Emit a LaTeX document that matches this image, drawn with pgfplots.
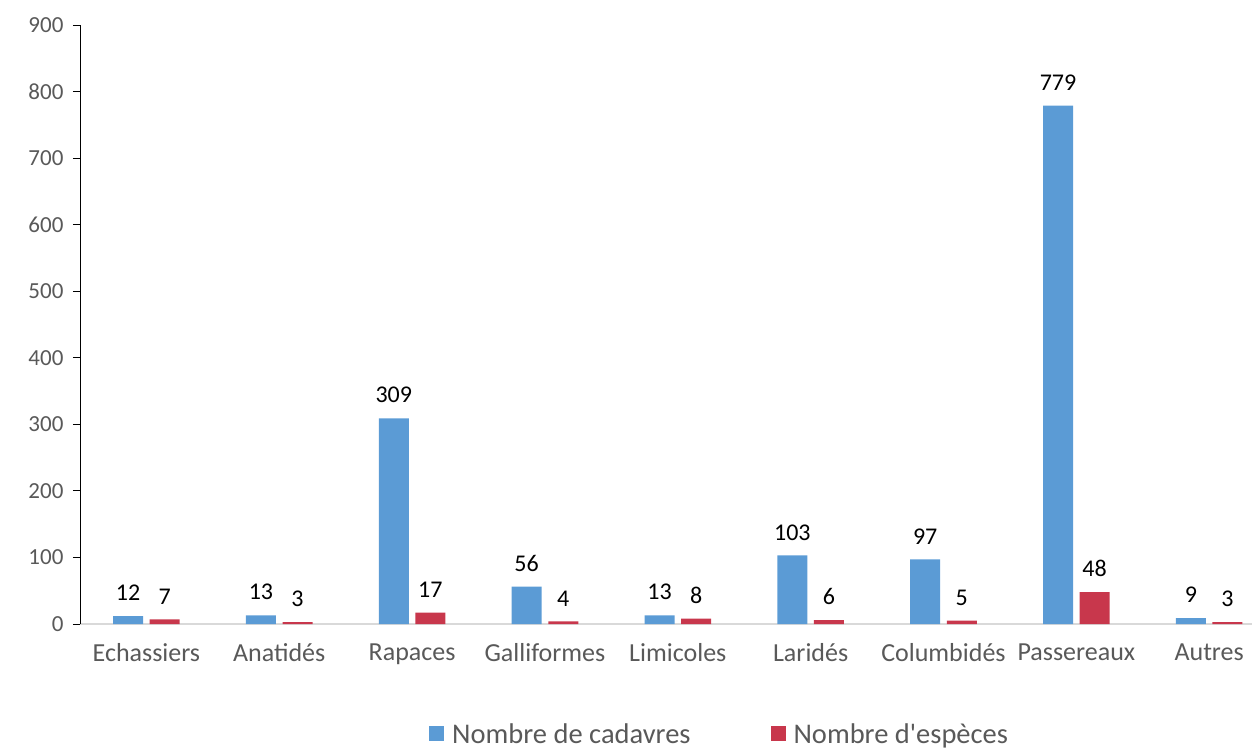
\documentclass[border=0pt]{standalone}
\usepackage{fontspec}
\setmainfont{Carlito}[Ligatures=TeXOff]
\usepackage{pgfplots}
\pgfplotsset{compat=1.18}
\definecolor{cblue}{HTML}{5B9BD5}
\definecolor{cred}{HTML}{C8374C}
\definecolor{tgray}{HTML}{595959}
\definecolor{lgray}{HTML}{D9D9D9}
\begin{document}
\begin{tikzpicture}
\path[use as bounding box] (-80pt,-125pt) rectangle (1172pt,624pt);
\begin{axis}[
  scale only axis, width=1195.7pt, height=599pt,
  at={(0pt,0pt)}, anchor=south west,
  xmin=-0.5, xmax=8.5, ymin=0, ymax=900,
  axis x line=bottom, axis y line=left,
  x axis line style={-, draw=lgray, line width=1.2pt},
  y axis line style={-, draw=black, line width=0.9pt},
  ytick={0,100,...,900},
  ytick style={draw=black, line width=0.9pt},
  tick align=outside, major tick length=7pt,
  xtick=data,
  xtick style={draw=none},
  xticklabels={Echassiers,Anatidés,Rapaces,Galliformes,Limicoles,Laridés,Columbidés,Passereaux,Autres},
  xticklabel style={font=\fontsize{26}{30}\selectfont, text=tgray, yshift=-9pt},
  yticklabel style={font=\fontsize{23}{27}\selectfont, text=tgray, xshift=-6pt},
  /pgf/number format/assume math mode=true,
  scaled y ticks=false,
  ybar, bar width=30pt,
  nodes near coords,
  nodes near coords style={font=\fontsize{24}{28}\selectfont, text=black, anchor=south, inner sep=0pt, yshift=15pt},
  legend style={at={(0.535,0)}, anchor=center, yshift=-110pt, draw=none, fill=none,
    legend columns=2, font=\fontsize{28.5}{32}\selectfont, text=tgray,
    /tikz/every even column/.append style={column sep=78pt}},
  legend image code/.code={\fill[#1] (0pt,-7pt) rectangle (15pt,8pt); \path (21pt,0pt);},
]
\addplot[fill=cblue, draw=none, bar shift=-18.3pt] coordinates {
(0,12) (1,13) (2,309) (3,56) (4,13) (5,103) (6,97) (7,779) (8,9)};
\addplot[fill=cred, draw=none, bar shift=18.3pt] coordinates {
(0,7) (1,3) (2,17) (3,4) (4,8) (5,6) (6,5) (7,48) (8,3)};
\legend{Nombre de cadavres, Nombre d'espèces}
\end{axis}
\end{tikzpicture}
\end{document}
